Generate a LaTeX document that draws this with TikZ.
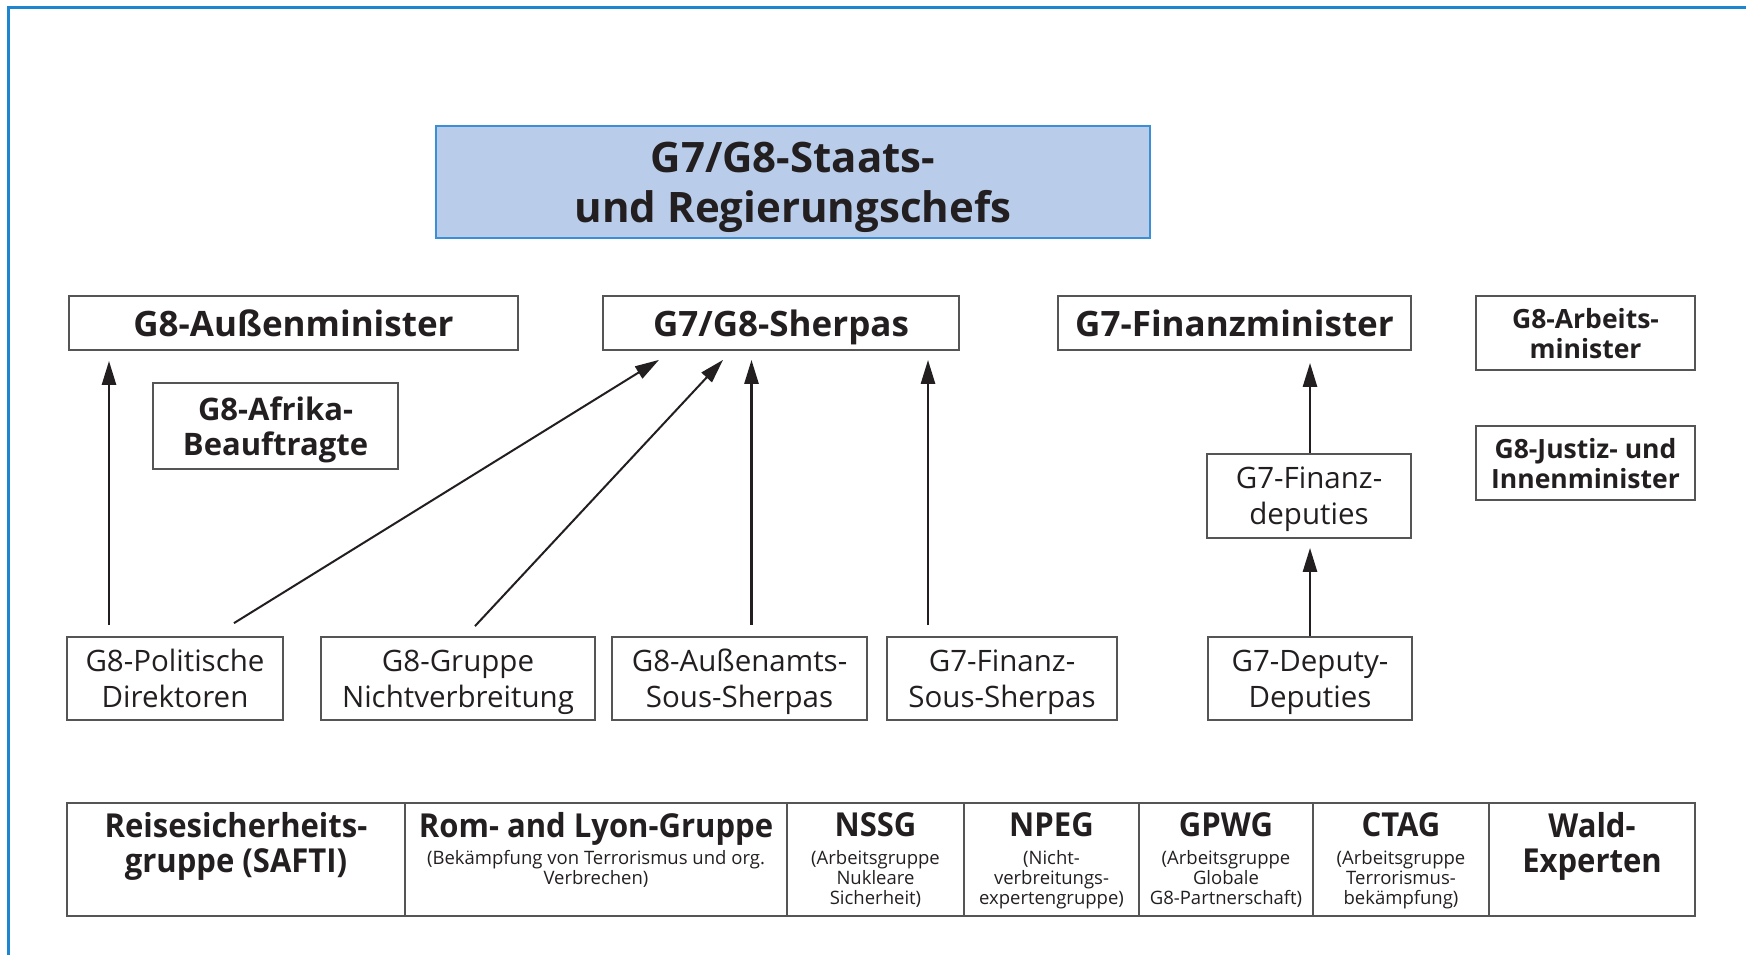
\documentclass[tikz,border=0pt]{standalone}
\usepackage{fontspec}
\setmainfont{Open Sans}
\newfontfamily\condfont[FakeStretch=0.94]{Open Sans}
\usetikzlibrary{arrows.meta,calc}
\definecolor{frameblue}{HTML}{1E86D0}
\definecolor{topfill}{HTML}{B9CDEA}
\definecolor{topline}{HTML}{3A8FD6}
\definecolor{boxline}{HTML}{555555}
\definecolor{txt}{HTML}{231F20}
\tikzset{
  box/.style={draw=boxline,line width=1.8pt,rectangle,inner sep=0pt,align=center,text=txt,text depth=0pt},
  bigbold/.style={font=\bfseries\fontsize{35}{40}\selectfont},
  smallbold/.style={font=\bfseries\fontsize{26.5}{30}\selectfont},
  midbold/.style={font=\bfseries\fontsize{31}{35}\selectfont},
  regtxt/.style={font=\fontsize{29.5}{36}\selectfont},
  cell/.style={draw=boxline,line width=1.8pt,rectangle,inner sep=0pt,minimum height=113pt},
  celltitle/.style={inner sep=0pt,align=center,text=txt,anchor=north,font=\condfont\bfseries\fontsize{33}{35}\selectfont},
  cellsub/.style={inner sep=0pt,align=center,text=txt,anchor=north,font=\fontsize{18.5}{20}\selectfont},
  arr/.style={line width=2.6pt,draw=txt,-{Triangle[length=24pt,width=14pt]}},
  arrthin/.style={line width=2pt,draw=txt,-{Triangle[length=24pt,width=14pt]}}
}
\begin{document}
\begin{tikzpicture}[x=1pt,y=-1pt]
\useasboundingbox (0,0) rectangle (1746,955);
% frame
\draw[frameblue,line width=3pt] (8,955) -- (8,8) -- (1746,8);
% top
\node[draw=topline,fill=topfill,line width=2pt,inner sep=0pt,minimum width=714pt,minimum height=112pt,align=center,text=txt,text depth=0pt,font=\bfseries\fontsize{42}{50}\selectfont] (top) at (793,182) {G7/G8-Staats-\\und Regierungschefs};
% row 2
\node[box,bigbold,minimum width=449pt,minimum height=54pt] (aussen) at (293.5,323) {G8-Außenminister};
\node[box,bigbold,minimum width=356pt,minimum height=54pt] (sherpas) at (781,323) {G7/G8-Sherpas};
\node[box,bigbold,minimum width=353pt,minimum height=54pt] (finmin) at (1234.5,323) {G7-Finanzminister};
\node[box,smallbold,minimum width=219pt,minimum height=74pt] (arbeit) at (1585.5,333) {G8-Arbeits-\\minister};
\node[box,smallbold,minimum width=219pt,minimum height=74pt] (justiz) at (1585.5,463) {G8-Justiz- und\\Innenminister};
\node[box,midbold,minimum width=245pt,minimum height=86pt] (afrika) at (275.5,426) {G8-Afrika-\\Beauftragte};
\node[box,regtxt,minimum width=204pt,minimum height=84pt] (findep) at (1309,496) {G7-Finanz-\\deputies};
% row 3
\node[box,regtxt,minimum width=216pt,minimum height=83pt] (polit) at (175,678.5) {G8-Politische\\Direktoren};
\node[box,regtxt,minimum width=274pt,minimum height=83pt] (nv) at (458,678.5) {G8-Gruppe\\Nichtverbreitung};
\node[box,regtxt,minimum width=255pt,minimum height=83pt] (aa) at (739.5,678.5) {G8-Außenamts-\\Sous-Sherpas};
\node[box,regtxt,minimum width=230pt,minimum height=83pt] (fss) at (1002,678.5) {G7-Finanz-\\Sous-Sherpas};
\node[box,regtxt,minimum width=204pt,minimum height=83pt] (dd) at (1310,678.5) {G7-Deputy-\\Deputies};
% arrows
\draw[arr] ([shift={(-66,-11)}]polit.north) -- ([shift={(-184.5,10)}]aussen.south);
\draw[arrthin] ([shift={(59,-13)}]polit.north) -- ([shift={(-122,9)}]sherpas.south);
\draw[arrthin] ([shift={(17,-10)}]nv.north) -- ([shift={(-58,9)}]sherpas.south);
\draw[arr] ([shift={(12,-11)}]aa.north) -- ([shift={(-29.5,9)}]sherpas.south);
\draw[arr] ([shift={(-74,-11)}]fss.north) -- ([shift={(147,9)}]sherpas.south);
\draw[arr] (dd.north) -- ([shift={(1,9)}]findep.south);
\draw[arr] ([xshift=1pt]findep.north) -- ([shift={(75.5,12)}]finmin.south);
% bottom table
\node[cell,minimum width=338pt] (c1) at (236,859.5) {};
\node[cell,minimum width=382pt] (c2) at (596,859.5) {};
\node[cell,minimum width=177pt] (c3) at (875.5,859.5) {};
\node[cell,minimum width=175pt] (c4) at (1051.5,859.5) {};
\node[cell,minimum width=174pt] (c5) at (1226,859.5) {};
\node[cell,minimum width=176pt] (c6) at (1401,859.5) {};
\node[cell,minimum width=206pt] (c7) at (1592,859.5) {};
\node[celltitle] (t1) at ([yshift=-10pt]c1.north) {Reisesicherheits-\\gruppe (SAFTI)};
\node[celltitle] (t2) at ([yshift=-10pt]c2.north) {Rom- and Lyon-Gruppe};
\node[cellsub] (s2) at ([yshift=-48pt]c2.north) {(Bekämpfung von Terrorismus und org.\\Verbrechen)};
\node[celltitle] (t3) at ([yshift=-10pt]c3.north) {NSSG};
\node[cellsub] (s3) at ([yshift=-48pt]c3.north) {(Arbeitsgruppe\\Nukleare\\Sicherheit)};
\node[celltitle] (t4) at ([yshift=-10pt]c4.north) {NPEG};
\node[cellsub] (s4) at ([yshift=-48pt]c4.north) {(Nicht-\\verbreitungs-\\expertengruppe)};
\node[celltitle] (t5) at ([yshift=-10pt]c5.north) {GPWG};
\node[cellsub] (s5) at ([yshift=-48pt]c5.north) {(Arbeitsgruppe\\Globale\\G8-Partnerschaft)};
\node[celltitle] (t6) at ([yshift=-10pt]c6.north) {CTAG};
\node[cellsub] (s6) at ([yshift=-48pt]c6.north) {(Arbeitsgruppe\\Terrorismus-\\bekämpfung)};
\node[celltitle] (t7) at ([yshift=-10pt]c7.north) {Wald-\\Experten};
\end{tikzpicture}
\end{document}
